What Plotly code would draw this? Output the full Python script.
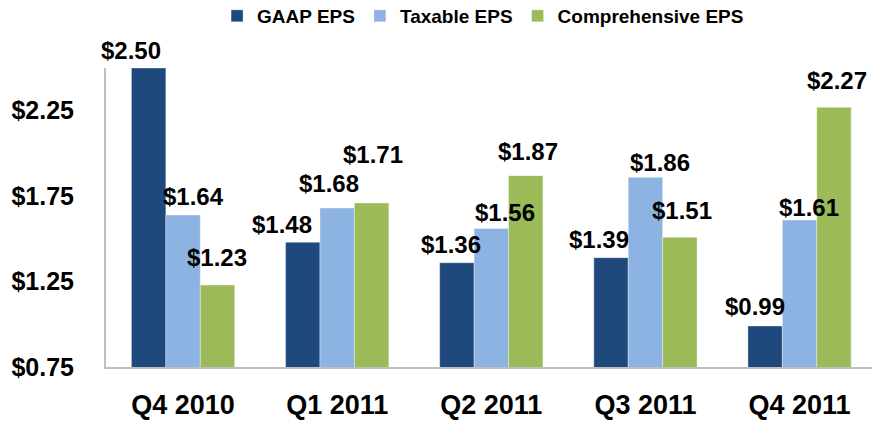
import plotly.graph_objects as go

quarters = ["Q4 2010", "Q1 2011", "Q2 2011", "Q3 2011", "Q4 2011"]
gaap_eps = [2.50, 1.48, 1.36, 1.39, 0.99]
taxable_eps = [1.64, 1.68, 1.56, 1.86, 1.61]
comprehensive_eps = [1.23, 1.71, 1.87, 1.51, 2.27]
y_ticks = [0.75, 1.25, 1.75, 2.25]
y_tick_labels = ["$0.75", "$1.25", "$1.75", "$2.25"]

series = [
    ("GAAP EPS", gaap_eps, "#1F497D"),
    ("Taxable EPS", taxable_eps, "#8DB3E2"),
    ("Comprehensive EPS", comprehensive_eps, "#9BBB59"),
]

# label placement styles (pixel nudges relative to category centre / bar top)
LABEL_DX = [
    [-52, -55, -40, -46, -45],
    [10, -8, 14, 15, 9],
    [34, 36, 37, 37, 37],
]
LABEL_DY = [
    [18, 18, 18, 18, 19],
    [18, 25, 16, 15, 13],
    [27, 48, 24, 27, 27],
]

FONT = "Liberation Sans"

fig = go.Figure()
for name, vals, color in series:
    fig.add_trace(go.Bar(
        x=quarters, y=vals, name=name,
        marker=dict(color=color, line=dict(width=0.6, color="rgba(255,255,255,0.6)")),
        hoverinfo="x+y+name",
    ))

for si, (name, vals, color) in enumerate(series):
    for qi, (q, v) in enumerate(zip(quarters, vals)):
        fig.add_annotation(
            x=q, y=v, xref="x", yref="y",
            text=f"${v:.2f}", showarrow=False,
            xanchor="center", yanchor="middle",
            xshift=LABEL_DX[si][qi], yshift=LABEL_DY[si][qi],
            font=dict(family=FONT, size=24, color="black", weight="bold"),
        )

fig.update_layout(
    width=872, height=422,
    margin=dict(l=106, r=0, t=68, b=55, autoexpand=False),
    paper_bgcolor="white", plot_bgcolor="white",
    barmode="group", bargap=0.33, bargroupgap=0,
    showlegend=True,
    legend=dict(orientation="h", x=0.145, xref="paper", y=1.174, yref="paper",
                xanchor="left", yanchor="middle",
                font=dict(family=FONT, size=19, color="black", weight="bold"),
                itemwidth=30, tracegroupgap=0, bgcolor="rgba(0,0,0,0)"),
    font=dict(family=FONT, color="black"),
)
fig.update_xaxes(
    range=[-0.5, 4.47], showgrid=False, showline=True, linecolor="#BFBFBF", linewidth=2,
    ticks="", tickfont=dict(family=FONT, size=27, color="black", weight="bold"),
    ticklabelstandoff=13, automargin=False,
)
fig.update_yaxes(
    range=[0.75, 2.5], showgrid=False, showline=True, linecolor="#BFBFBF", linewidth=2,
    zeroline=False, tickvals=y_ticks, ticktext=y_tick_labels, ticks="",
    tickfont=dict(family=FONT, size=25, color="black", weight="bold"),
    ticklabelstandoff=25, automargin=False,
)

fig.write_html("out.html", config={"displayModeBar": False},
               post_script="document.body.style.margin='0';")
